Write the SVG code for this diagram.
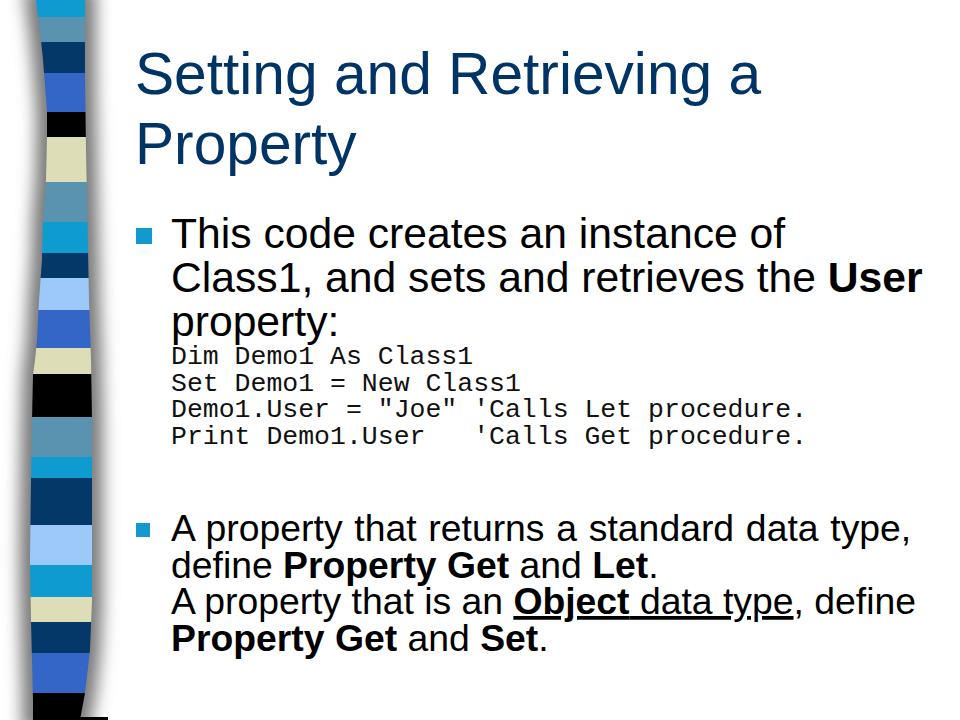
<svg xmlns="http://www.w3.org/2000/svg" width="960" height="720" viewBox="0 0 960 720">
<style>
.title{font-family:"Liberation Sans",Arial,sans-serif;font-size:58.67px;fill:#003366}
.p1{font-family:"Liberation Sans",Arial,sans-serif;font-size:42.67px;fill:#000}
.p2{font-family:"Liberation Sans",Arial,sans-serif;font-size:37.33px;fill:#000}
.code{font-family:"Courier New","Liberation Mono",monospace;font-size:26.5px;fill:#111;white-space:pre}
.b{font-weight:bold}
.bullet{fill:#1199d0}
</style>
<defs>
<clipPath id="stripClip">
<path d="M36,0 L38,17 L41,40 L43,60 L47,110 L47,137 L46,180 L43,220 L42,260 L39,300 L37,340 L35,360 L33,375 L32,420 L31,480 L30,560 L31,620 L32,660 L33,700 L33,720 L80,720 L85,693 L90,650 L92,600 L92,420 L91,360 L89,300 L88,250 L86,150 L85,80 L85,0 Z"/>
</clipPath>
<filter id="blur" x="-1" y="-0.1" width="3" height="1.2">
<feGaussianBlur stdDeviation="8"/>
</filter>
</defs>
<rect width="960" height="720" fill="#fff"/>
<g id="strip">
<path d="M36,0 L38,17 L41,40 L43,60 L47,110 L47,137 L46,180 L43,220 L42,260 L39,300 L37,340 L35,360 L33,375 L32,420 L31,480 L30,560 L31,620 L32,660 L33,700 L33,720 L80,720 L85,693 L90,650 L92,600 L92,420 L91,360 L89,300 L88,250 L86,150 L85,80 L85,0 Z" fill="#7a7a7a" stroke="#7a7a7a" stroke-width="22" filter="url(#blur)"/>
<g clip-path="url(#stripClip)">
<rect x="0" y="0" width="120" height="17" fill="#0e9bcf"/>
<rect x="0" y="17" width="120" height="25" fill="#5a93b0"/>
<rect x="0" y="42" width="120" height="31" fill="#033868"/>
<rect x="0" y="73" width="120" height="39" fill="#3466c8"/>
<rect x="0" y="112" width="120" height="25" fill="#000"/>
<rect x="0" y="137" width="120" height="45" fill="#ddddb8"/>
<rect x="0" y="182" width="120" height="40" fill="#5a93b0"/>
<rect x="0" y="222" width="120" height="31" fill="#0e9bcf"/>
<rect x="0" y="253" width="120" height="25" fill="#033868"/>
<rect x="0" y="278" width="120" height="32" fill="#9cc9fa"/>
<rect x="0" y="310" width="120" height="38" fill="#3466c8"/>
<rect x="0" y="348" width="120" height="26" fill="#ddddb8"/>
<rect x="0" y="374" width="120" height="43" fill="#000"/>
<rect x="0" y="417" width="120" height="40" fill="#5a93b0"/>
<rect x="0" y="457" width="120" height="21" fill="#0e9bcf"/>
<rect x="0" y="478" width="120" height="47" fill="#033868"/>
<rect x="0" y="525" width="120" height="40" fill="#9cc9fa"/>
<rect x="0" y="565" width="120" height="32" fill="#0e9bcf"/>
<rect x="0" y="597" width="120" height="25" fill="#ddddb8"/>
<rect x="0" y="622" width="120" height="31" fill="#033868"/>
<rect x="0" y="653" width="120" height="40" fill="#3466c8"/>
<rect x="0" y="693" width="120" height="27" fill="#000"/>
</g>
<rect x="80" y="717" width="28" height="3" fill="#000"/>
</g>
<g id="title">
<text class="title" x="135" y="94">Setting and Retrieving a</text>
<text class="title" x="135" y="164">Property</text>
</g>
<g id="bullet1">
<rect class="bullet" x="136" y="228" width="16" height="16"/>
<text class="p1" x="171" y="248">This code creates an instance of</text>
<text class="p1" x="171" y="292">Class1, and sets and retrieves the <tspan class="b">User</tspan></text>
<text class="p1" x="171" y="336">property:</text>
<text class="code" x="171" y="364">Dim Demo1 As Class1</text>
<text class="code" x="171" y="390.5">Set Demo1 = New Class1</text>
<text class="code" x="171" y="417">Demo1.User = "Joe" 'Calls Let procedure.</text>
<text class="code" x="171" y="443.5">Print Demo1.User   'Calls Get procedure.</text>
</g>
<g id="bullet2">
<rect class="bullet" x="136" y="523" width="14" height="14"/>
<text class="p2" x="171" y="541" word-spacing="1.4">A property that returns a standard data type,</text>
<text class="p2" x="171" y="578">define <tspan class="b">Property Get</tspan> and <tspan class="b">Let</tspan>.</text>
<text class="p2" x="171" y="614">A property that is an <tspan class="b" text-decoration="underline">Object</tspan><tspan text-decoration="underline"> data type</tspan>, define</text>
<text class="p2" x="171" y="651"><tspan class="b">Property Get</tspan> and <tspan class="b">Set</tspan>.</text>
</g>
</svg>
